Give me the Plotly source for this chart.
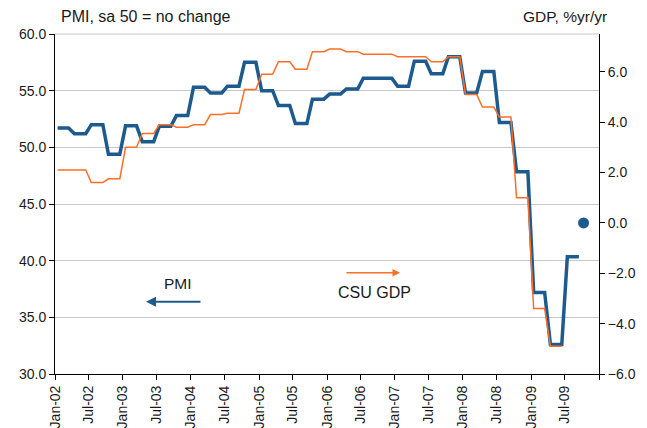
import pandas as pd
import plotly.graph_objects as go

# Monthly PMI (sa, 50 = no change), Jan-2002 .. Sep-2009
pmi = [
    51.7, 51.7, 51.7, 51.2, 51.2, 51.2, 52.0, 52.0, 52.0, 49.4, 49.4, 49.4,   # 2002
    51.9, 51.9, 51.9, 50.5, 50.5, 50.5, 51.85, 51.85, 51.85, 52.8, 52.8, 52.8,  # 2003
    55.3, 55.3, 55.3, 54.8, 54.8, 54.8, 55.4, 55.4, 55.4, 57.5, 57.5, 57.5,   # 2004
    55.0, 55.0, 55.0, 53.7, 53.7, 53.7, 52.1, 52.1, 52.1, 54.25, 54.25, 54.25,  # 2005
    54.7, 54.7, 54.7, 55.15, 55.15, 55.15, 56.1, 56.1, 56.1, 56.1, 56.1, 56.1,  # 2006
    55.4, 55.4, 55.4, 57.6, 57.6, 57.6, 56.5, 56.5, 56.5, 58.0, 58.0, 58.0,   # 2007
    54.8, 54.8, 54.8, 56.7, 56.7, 56.7, 52.2, 52.2, 52.2, 47.85, 47.85, 47.85,  # 2008
    37.2, 37.2, 37.2, 32.6, 32.6, 32.6, 40.35, 40.35, 40.35,                  # 2009
]

# Monthly CSU GDP, % yr/yr, Jan-2002 .. Jun-2009
gdp = [
    2.1, 2.1, 2.1, 2.1, 2.1, 2.1, 1.6, 1.6, 1.6, 1.75, 1.75, 1.75,           # 2002
    3.0, 3.0, 3.0, 3.55, 3.55, 3.55, 3.9, 3.9, 3.9, 3.8, 3.8, 3.8,           # 2003
    3.9, 3.9, 3.9, 4.3, 4.3, 4.3, 4.35, 4.35, 4.35, 5.3, 5.3, 5.3,           # 2004
    5.9, 5.9, 5.9, 6.4, 6.4, 6.4, 6.1, 6.1, 6.1, 6.8, 6.8, 6.8,              # 2005
    6.9, 6.9, 6.9, 6.8, 6.8, 6.8, 6.7, 6.7, 6.7, 6.7, 6.7, 6.7,              # 2006
    6.6, 6.6, 6.6, 6.6, 6.6, 6.6, 6.4, 6.4, 6.4, 6.6, 6.6, 6.6,              # 2007
    5.1, 5.1, 5.1, 4.6, 4.6, 4.6, 4.2, 4.2, 4.2, 1.0, 1.0, 1.0,              # 2008
    -3.4, -3.4, -3.4, -4.9, -4.9, -4.9,                                      # 2009
]

# Single GDP marker (Oct-2009)
gdp_point_date = ["2009-10-10"]
gdp_point = [0.0]

# X tick labels (every 6 months)
tick_dates = list(pd.date_range("2002-01-01", "2010-01-01", freq="6MS"))
tick_labels = ["Jan-02", "Jul-02", "Jan-03", "Jul-03", "Jan-04", "Jul-04",
               "Jan-05", "Jul-05", "Jan-06", "Jul-06", "Jan-07", "Jul-07",
               "Jan-08", "Jul-08", "Jan-09", "Jul-09", ""]

pmi_dates = pd.date_range("2002-01-01", periods=len(pmi), freq="MS") + pd.Timedelta(days=14)
gdp_dates = pd.date_range("2002-01-01", periods=len(gdp), freq="MS") + pd.Timedelta(days=14)

BLUE = "#1D5B8F"
ORANGE = "#FF6E26"
FONT = "Liberation Sans, Arial, sans-serif"
TXT = "#1a1a1a"

# The page places the figure 8px in from the top-left corner (body margin),
# so work in screen pixels and convert.
OFF = 8
W, H = 647 - OFF, 428 - OFF
L, R, T, B = 55, 599, 34, 374          # plot area in screen pixels
PW, PH = R - L, B - T

fig = go.Figure()
fig.add_trace(go.Scatter(x=gdp_dates, y=gdp, yaxis="y2", mode="lines",
                         line=dict(color=ORANGE, width=1.5), name="CSU GDP"))
fig.add_trace(go.Scatter(x=pmi_dates, y=pmi, mode="lines",
                         line=dict(color=BLUE, width=3.5), name="PMI"))
fig.add_trace(go.Scatter(x=pd.to_datetime(gdp_point_date), y=gdp_point, yaxis="y2",
                         mode="markers", marker=dict(color=BLUE, size=11),
                         name="GDP f"))

fig.update_layout(
    width=W, height=H,
    margin=dict(l=L - OFF, r=W - (R - OFF), t=T - OFF, b=H - (B - OFF), autoexpand=False),
    paper_bgcolor="white", plot_bgcolor="white",
    showlegend=False,
    font=dict(family=FONT, size=14, color=TXT),
    xaxis=dict(
        range=["2002-01-01", "2010-01-01"], automargin=False,
        tickmode="array", tickvals=tick_dates, ticktext=tick_labels,
        tickangle=-90, ticks="outside", ticklen=5, tickcolor="black",
        showline=True, linecolor="black", linewidth=1,
        showgrid=False, zeroline=False,
        tickfont=dict(size=14, color=TXT),
    ),
    yaxis=dict(
        range=[30, 60], dtick=5, tick0=30, tickformat=".1f", automargin=False,
        ticks="outside", ticklen=5, tickcolor="black",
        showline=True, linecolor="black", linewidth=1,
        showgrid=True, gridcolor="#C8C8C8", gridwidth=1,
        zeroline=False, tickfont=dict(size=14, color=TXT),
    ),
    yaxis2=dict(
        range=[-6, 7.5], tickmode="array", automargin=False,
        tickvals=[-6, -4, -2, 0, 2, 4, 6], tickformat=".1f",
        overlaying="y", side="right",
        ticks="outside", ticklen=5, tickcolor="black",
        showline=True, linecolor="black", linewidth=1,
        showgrid=False, zeroline=False, tickfont=dict(size=14, color=TXT),
    ),
)

# Top border (gridline at 60)
fig.add_shape(type="line", xref="paper", yref="paper", x0=0, x1=1, y0=1, y1=1,
              line=dict(color="#C8C8C8", width=1))

def px(xp):
    return (xp - L) / PW

def py(yp):
    return (B - yp) / PH

# Axis titles (centred on their positions in the reference)
fig.add_annotation(xref="paper", yref="paper", x=px(145.5), y=py(17),
                   xanchor="center", yanchor="middle", showarrow=False,
                   text="PMI, sa 50 = no change", font=dict(size=16, color=TXT))
fig.add_annotation(xref="paper", yref="paper", x=px(564.5), y=py(17),
                   xanchor="center", yanchor="middle", showarrow=False,
                   text="GDP, %yr/yr", font=dict(size=15.5, color=TXT))

# Series labels with arrows
fig.add_annotation(xref="paper", yref="paper", x=px(178), y=py(283),
                   xanchor="center", yanchor="middle",
                   showarrow=False, text="PMI", font=dict(size=15.5, color=TXT))
fig.add_annotation(xref="paper", yref="paper", x=px(146), y=py(301.7),
                   ax=56, ay=0, axref="pixel", ayref="pixel", text="",
                   showarrow=True, arrowhead=2, arrowsize=1, arrowwidth=2, arrowcolor=BLUE)
fig.add_annotation(xref="paper", yref="paper", x=px(374.5), y=py(292),
                   xanchor="center", yanchor="middle",
                   showarrow=False, text="CSU GDP", font=dict(size=16, color=TXT))
fig.add_annotation(xref="paper", yref="paper", x=px(400), y=py(272.7),
                   ax=-55, ay=0, axref="pixel", ayref="pixel", text="",
                   showarrow=True, arrowhead=2, arrowsize=1, arrowwidth=1.5, arrowcolor=ORANGE)

fig.write_html("out.html")
